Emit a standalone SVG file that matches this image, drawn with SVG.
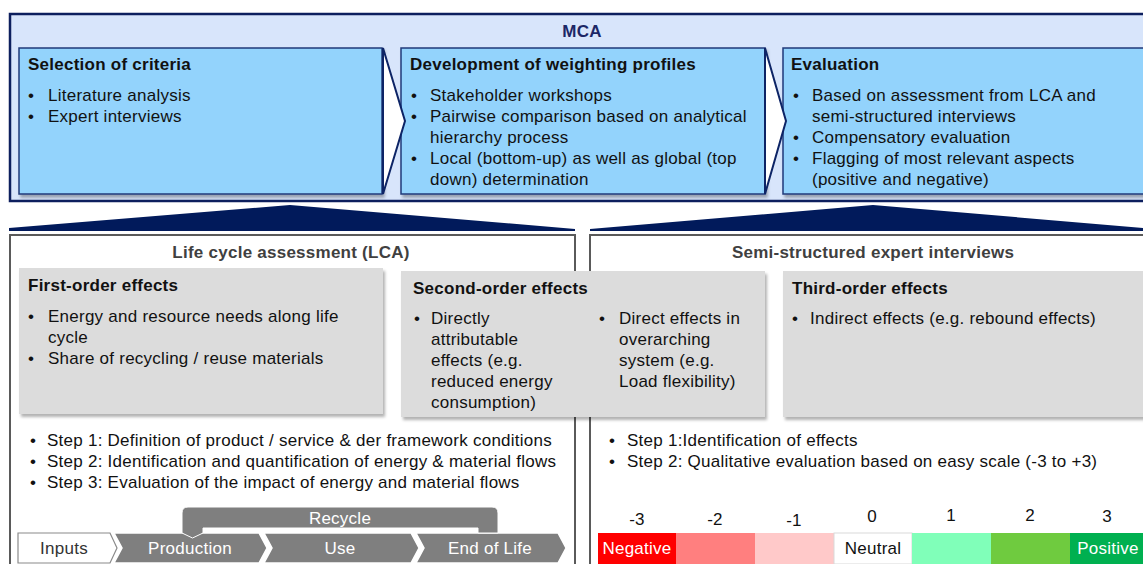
<svg xmlns="http://www.w3.org/2000/svg" width="1143" height="564" viewBox="0 0 1143 564">
<defs>
<filter id="sh" x="-5%" y="-5%" width="110%" height="115%">
<feDropShadow dx="2" dy="3" stdDeviation="1.5" flood-color="#000" flood-opacity="0.3"/>
</filter>
<style>
text{font-family:"Liberation Sans",Arial,sans-serif;font-size:17px;fill:#111;letter-spacing:0.25px}
.b{font-weight:bold}
.nav{fill:#1c2766}
.hd{fill:#404040;font-weight:bold}
.c{text-anchor:middle}
.w{fill:#fff}
.blue{fill:#93d3fc;stroke:#1f3a7a;stroke-width:1.5}
.gray{fill:#dcdcdc}
.frame{fill:#fff;stroke:#5a5a5a;stroke-width:2}
.chev{fill:#fff;stroke:#0d2466;stroke-width:2;stroke-linejoin:miter}
.roof{fill:#011a5b}
.step{fill:#7f7f7f;stroke:#fff;stroke-width:1.5}
</style>
</defs>

<g id="mca">
<rect x="10" y="14" width="1145" height="187" fill="#d8e5fb" stroke="#0d1f5e" stroke-width="2.5"/>
<text x="582" y="37" class="b nav c">MCA</text>
</g>

<g id="selection">
<rect x="19" y="48" width="363" height="146" class="blue" filter="url(#sh)"/>
<text x="28" y="70" class="b">Selection of criteria</text>
<text x="28" y="101">•</text><text x="48" y="101">Literature analysis</text>
<text x="28" y="122">•</text><text x="48" y="122">Expert interviews</text>
</g>

<g id="weighting">
<rect x="401" y="48" width="364" height="146" class="blue" filter="url(#sh)"/>
<text x="410" y="70" class="b">Development of weighting profiles</text>
<text x="411" y="101">•</text><text x="430" y="101">Stakeholder workshops</text>
<text x="411" y="122">•</text><text x="430" y="122">Pairwise comparison based on analytical</text>
<text x="430" y="143">hierarchy process</text>
<text x="411" y="164">•</text><text x="430" y="164">Local (bottom-up) as well as global (top</text>
<text x="430" y="185">down) determination</text>
</g>

<g id="evaluation">
<rect x="783" y="48" width="370" height="146" class="blue" filter="url(#sh)"/>
<text x="791" y="70" class="b">Evaluation</text>
<text x="793" y="101">•</text><text x="812" y="101">Based on assessment from LCA and</text>
<text x="812" y="122">semi-structured interviews</text>
<text x="793" y="143">•</text><text x="812" y="143">Compensatory evaluation</text>
<text x="793" y="164">•</text><text x="812" y="164">Flagging of most relevant aspects</text>
<text x="812" y="185">(positive and negative)</text>
</g>

<g id="connectors">
<polygon points="383,48 405,121 383,194" class="chev"/>
<polygon points="765,48 786,121 765,194" class="chev"/>
<polygon points="9,231 9,228 290,205 575,229 575,231" class="roof"/>
<polygon points="590,231 590,229 873,205 1143,228 1143,231" class="roof"/>
</g>

<g id="lca">
<rect x="10" y="235" width="565" height="340" class="frame"/>
<text x="291" y="258" class="hd c">Life cycle assessment (LCA)</text>
<text x="30" y="446">•</text><text x="47" y="446">Step 1: Definition of product / service &amp; der framework conditions</text>
<text x="30" y="467">•</text><text x="47" y="467">Step 2: Identification and quantification of energy &amp; material flows</text>
<text x="30" y="488">•</text><text x="47" y="488">Step 3: Evaluation of the impact of energy and material flows</text>
</g>

<g id="interviews">
<rect x="590" y="235" width="570" height="340" class="frame"/>
<text x="873" y="258" class="hd c">Semi-structured expert interviews</text>
<text x="609" y="446">•</text><text x="627" y="446">Step 1:Identification of effects</text>
<text x="609" y="467">•</text><text x="627" y="467">Step 2: Qualitative evaluation based on easy scale (-3 to +3)</text>
</g>

<g id="first-order">
<rect x="19" y="268" width="364" height="146" class="gray" filter="url(#sh)"/>
<text x="28" y="291" class="b">First-order effects</text>
<text x="28" y="322">•</text><text x="48" y="322">Energy and resource needs along life</text>
<text x="48" y="343">cycle</text>
<text x="28" y="364">•</text><text x="48" y="364">Share of recycling / reuse materials</text>
</g>

<g id="second-order">
<rect x="401" y="271" width="364" height="146" class="gray" filter="url(#sh)"/>
<text x="413" y="294" class="b">Second-order effects</text>
<text x="414" y="324">•</text><text x="431" y="324">Directly</text>
<text x="431" y="345">attributable</text>
<text x="431" y="366">effects (e.g.</text>
<text x="431" y="387">reduced energy</text>
<text x="431" y="408">consumption)</text>
<text x="599" y="324">•</text><text x="619" y="324">Direct effects in</text>
<text x="619" y="345">overarching</text>
<text x="619" y="366">system (e.g.</text>
<text x="619" y="387">Load flexibility)</text>
</g>

<g id="third-order">
<rect x="783" y="271" width="370" height="146" class="gray" filter="url(#sh)"/>
<text x="792" y="294" class="b">Third-order effects</text>
<text x="792" y="324">•</text><text x="810" y="324">Indirect effects (e.g. rebound effects)</text>
</g>

<g id="lifecycle">
<polygon points="18,533 110,533 117,548 110,563 18,563" fill="#fff" stroke="#8a8a8a" stroke-width="1.2"/>
<text x="64" y="554" class="c" style="fill:#333">Inputs</text>
<polygon points="114,533 259,533 267,548 259,563 114,563 122,548" class="step"/>
<polygon points="264,533 411,533 419,548 411,563 264,563 272,548" class="step"/>
<polygon points="416,533 558,533 566,548 558,563 416,563 424,548" class="step"/>
<text x="190" y="554" class="c w">Production</text>
<text x="340" y="554" class="c w">Use</text>
<text x="490" y="554" class="c w">End of Life</text>
<path d="M182,533 L182,513 Q182,507 188,507 L492,507 Q498,507 498,513 L498,533 L478,533 L478,528 L203,528 L203,533 L192.5,538 Z" fill="#7f7f7f" stroke="#fff" stroke-width="1"/>
<text x="340" y="524" class="c w">Recycle</text>
</g>

<g id="scale">
<text x="637" y="525" class="c">-3</text>
<text x="715" y="525" class="c">-2</text>
<text x="794" y="526" class="c">-1</text>
<text x="872" y="522" class="c">0</text>
<text x="951" y="521" class="c">1</text>
<text x="1030" y="521" class="c">2</text>
<text x="1107" y="522" class="c">3</text>
<rect x="598" y="533" width="78" height="31" fill="#ff0000"/>
<rect x="676" y="533" width="79" height="31" fill="#ff7f7f"/>
<rect x="755" y="533" width="79" height="31" fill="#ffc9c9"/>
<rect x="834" y="533" width="78" height="31" fill="#fff" stroke="#d9d9d9" stroke-width="1"/>
<rect x="912" y="533" width="79" height="31" fill="#80ffb9"/>
<rect x="991" y="533" width="79" height="31" fill="#6fcb3f"/>
<rect x="1070" y="533" width="80" height="31" fill="#00b050"/>
<text x="637" y="554" class="c w">Negative</text>
<text x="873" y="554" class="c">Neutral</text>
<text x="1108" y="554" class="c w">Positive</text>
</g>
</svg>
